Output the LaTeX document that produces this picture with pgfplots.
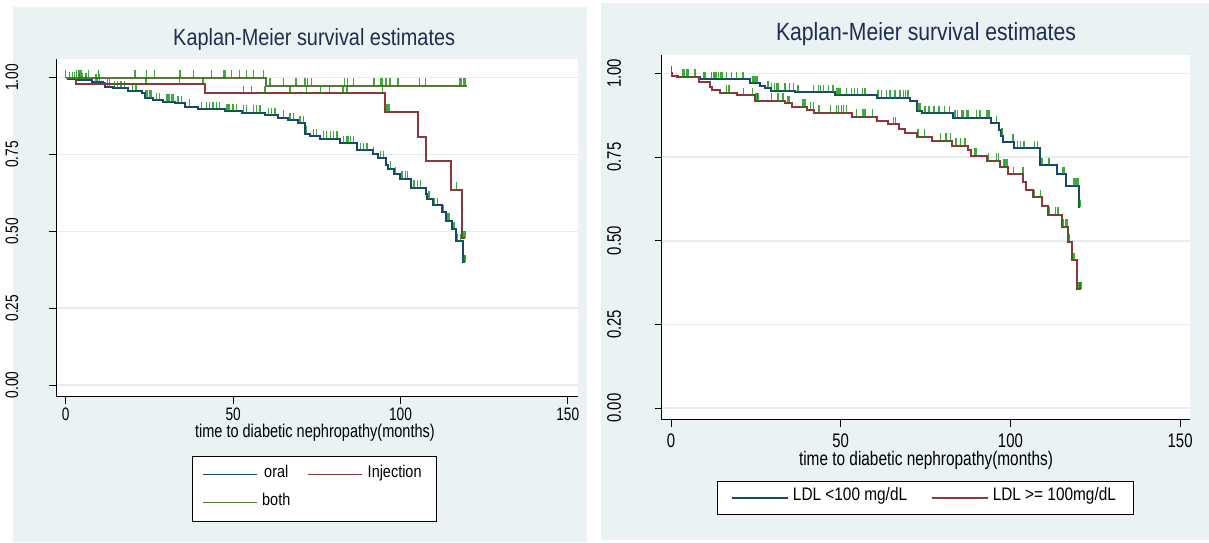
\documentclass[border=0pt]{standalone}
\usepackage{fontspec}
\setmainfont{Liberation Sans}[FakeStretch=0.85]
\newfontfamily\kfont{Liberation Sans}[FakeStretch=0.76]
\newfontfamily\lfont{Liberation Sans}[FakeStretch=0.785]
\usepackage{pgfplots}
\pgfplotsset{compat=1.18}

\definecolor{bgc}{RGB}{234,242,243}
\definecolor{gridc}{RGB}{228,236,240}
\definecolor{titlec}{RGB}{30,45,80}
\definecolor{navyc}{RGB}{26,71,111}
\definecolor{maroonc}{RGB}{144,53,59}
\definecolor{fgreenc}{RGB}{90,122,52}
\definecolor{censc}{RGB}{0,140,0}

\pgfplotsset{
  km/.style={
    scale only axis, anchor=south west,
    axis x line*=bottom, axis y line*=left,
    axis line style={black, line width=0.9pt},
    axis background/.style={fill=white},
    tick align=outside, major tick length=7pt,
    tick style={black, line width=0.8pt},
    xtick={0,50,100,150}, xticklabels={0,50,100,150},
    ytick={0,0.25,0.5,0.75,1}, yticklabels={0.00,0.25,0.50,0.75,1.00},
    ymajorgrids, grid style={gridc, line width=1.6pt},
    title={Kaplan-Meier survival estimates},
    xlabel={time to diabetic nephropathy(months)},
    legend columns=2,
  },
  kmline/.style={const plot, line width=2pt, no marks},
  cens/.style={only marks, mark=|, mark size=3.75pt, color=censc, opacity=0.75,
    mark options={line width=1.3pt, yshift=3.75pt}, forget plot},
}

\begin{document}
\begin{tikzpicture}
\fill[white] (0pt,0pt) rectangle (1209pt,-542pt);
\fill[bgc] (13pt,-7pt) rectangle (587pt,-542pt);
\fill[bgc] (601pt,-3pt) rectangle (1209pt,-540pt);

% ---------------- left panel: treatment ----------------
\begin{axis}[km,
  at={(56.5pt,-396.5pt)}, width=521pt, height=337.5pt,
  xmin=-2.78, xmax=152.9, ymin=-0.0374, ymax=1.0605,
  ticklabel style={font=\kfont\fontsize{18}{18}\selectfont},
  xticklabel style={anchor=base, yshift=-17pt},
  yticklabel style={xshift=-37.5pt, rotate=90, anchor=center},
  title style={at={(axis description cs:0.4946,1.0216)}, anchor=base,
    font=\fontsize{23.4}{23.4}\selectfont, color=titlec},
  xlabel style={at={(axis description cs:0.496,-0.1215)}, anchor=base,
    font=\lfont\fontsize{18.5}{18.5}\selectfont},
  legend style={at={(axis description cs:0.4946,-0.1763)}, anchor=north,
    draw=black, line width=0.9pt, fill=white,
    font=\fontsize{17}{17}\selectfont,
    inner xsep=9.5pt, inner ysep=12.5pt, row sep=16.5pt,
    nodes={inner ysep=1pt, inner xsep=5pt, text height=0.75em, text depth=0.2em},
    /tikz/every even column/.append style={column sep=12pt}},
  legend image code/.code={\draw[#1, line width=1.4pt] (0pt,0pt) -- (54pt,0pt);},
]
% oral
\addplot[cens] coordinates {
(1,0.995)(2,0.995)(2.5,0.995)(4,0.992)(5,0.992)(6,0.992)(9,0.987)(10,0.987)
(12.5,0.970)(13,0.970)(14.5,0.965)(15.5,0.965)(16.5,0.965)(17.5,0.965)(20,0.956)(21,0.956)
(24,0.934)(24.5,0.934)(25,0.934)(25.5,0.934)(27,0.927)(28,0.927)(30,0.921)(30.5,0.921)
(31,0.921)(31.5,0.921)(32,0.921)(33.5,0.916)(34.5,0.916)(37,0.905)(40.5,0.897)(42,0.897)
(43,0.897)(44,0.897)(45,0.897)(46,0.897)(48,0.891)(48.5,0.891)(49,0.891)(50,0.891)
(51,0.891)(53,0.886)(54,0.886)(56,0.886)(57,0.886)(58,0.886)(60.5,0.878)(61.5,0.878)
(62.5,0.878)(65,0.869)(67,0.862)(68,0.862)(70,0.851)(71,0.851)(72,0.818)(74,0.809)
(75,0.809)(77,0.801)(78,0.801)(79,0.801)(80,0.801)(81,0.801)(83,0.786)(84,0.786)
(84.5,0.786)(85,0.786)(86,0.786)(88,0.764)(89,0.764)(90,0.764)(92,0.751)(94,0.737)
(95,0.737)(97,0.704)(98.5,0.685)(100.5,0.671)(101.5,0.671)(102,0.671)(104,0.642)(105,0.642)
(106,0.642)(108.5,0.606)(110,0.584)(111,0.584)(112.8,0.562)(114,0.535)(114.5,0.535)(116,0.506)
(117,0.468)(118,0.468)(119,0.399)(119.3,0.399)};
% injection
\addplot[cens] coordinates {
(9.5,0.978)(24,0.978)(34,0.978)(41,0.978)(53,0.949)(55.5,0.949)(59.5,0.949)(67,0.949)
(72,0.949)(76.2,0.949)(78.7,0.949)(82.8,0.949)(84,0.949)(94.7,0.949)(95.8,0.889)(96.3,0.889)
(96.7,0.889)(115.3,0.635)(116.8,0.635)(118.7,0.478)(119.3,0.478)};
% both
\addplot[cens] coordinates {
(0,1)(3.2,1)(3.7,1)(4.2,1)(4.7,1)(6.7,1)(9.7,1)(20.7,1)(24.2,1)(26.6,1)(34.1,1)(38.1,1)
(43.6,1)(47.1,1)(47.6,1)(49.6,1)(52,1)(54,1)(56,1)(59,1)(61,0.973)(65,0.973)(68.8,0.973)
(71.5,0.973)(72.2,0.973)(73.5,0.973)(83.3,0.973)(84.2,0.973)(85.9,0.973)(92.1,0.973)
(94.2,0.973)(94.7,0.973)(95.7,0.973)(96.9,0.973)(99.3,0.973)(105.6,0.973)(107.5,0.973)
(117.8,0.973)(118.3,0.973)(118.8,0.973)(119.3,0.973)};

\addplot[kmline, navyc] coordinates {
(0,1.000)(0.6,0.995)(3.1,0.992)(7.7,0.987)(11.2,0.981)(11.7,0.970)(14.2,0.965)(18.7,0.956)
(22.7,0.949)(23.7,0.934)(26.1,0.927)(29.1,0.921)(32.6,0.916)(35.6,0.905)(39.6,0.897)
(47.6,0.891)(52.5,0.886)(59.5,0.878)(63.5,0.869)(66.5,0.862)(69.5,0.851)(71.5,0.818)
(73,0.809)(76,0.801)(82,0.786)(87,0.764)(91.7,0.751)(93.2,0.737)(95.7,0.715)(96.4,0.704)
(98.1,0.685)(99.9,0.671)(103.1,0.642)(107.6,0.622)(108,0.606)(109.6,0.584)(112.3,0.562)
(113.5,0.535)(115.3,0.506)(116.5,0.468)(118.6,0.399)(119.3,0.399)};
\addlegendentry{oral}
\addplot[kmline, maroonc] coordinates {
(0,1.0)(3.0,0.978)(41.6,0.949)(95.3,0.889)(105.3,0.807)(107.5,0.728)(115,0.635)
(118.3,0.478)(119.3,0.478)};
\addlegendentry{Injection}
\addplot[kmline, fgreenc] coordinates {
(0,1.0)(59.7,0.973)(120,0.973)};
\addlegendentry{both}
\end{axis}

% ---------------- right panel: LDL ----------------
\begin{axis}[km,
  at={(661.7pt,-419.6pt)}, width=527.9pt, height=364.6pt,
  xmin=-2.74, xmax=152.8, ymin=-0.0347, ymax=1.055,
  ticklabel style={font=\kfont\fontsize{19.6}{19.6}\selectfont},
  xticklabel style={anchor=base, yshift=-20.4pt},
  yticklabel style={xshift=-40.7pt, rotate=90, anchor=center},
  title style={at={(axis description cs:0.5007,1.0230)}, anchor=base,
    font=\fontsize{24.9}{24.9}\selectfont, color=titlec},
  xlabel style={at={(axis description cs:0.5007,-0.1272)}, anchor=base,
    font=\lfont\fontsize{19.6}{19.6}\selectfont},
  legend style={at={(axis description cs:0.4997,-0.1684)}, anchor=north,
    draw=black, line width=0.9pt, fill=white,
    font=\fontsize{18.1}{18.1}\selectfont,
    inner xsep=13.5pt, inner ysep=10.9pt,
    nodes={inner ysep=1pt, inner xsep=4pt, text height=0.75em, text depth=0.2em},
    /tikz/every even column/.append style={column sep=19.7pt}},
  legend image code/.code={\draw[#1, line width=1.4pt] (0pt,0pt) -- (56.5pt,0pt);},
]
\addplot[cens] coordinates {
(0.2,1.000)(3.5,0.990)(4,0.990)(4.5,0.990)(5,0.990)(7.1,0.990)(9.5,0.983)(10,0.983)
(12,0.983)(12.5,0.983)(13,0.983)(13.5,0.983)(14,0.983)(14.5,0.983)(15,0.983)(16.4,0.983)
(17.8,0.983)(19.2,0.983)(21.2,0.983)(24.2,0.970)(24.5,0.970)(24.8,0.970)(25.3,0.970)
(28.6,0.955)(29.6,0.948)(30.5,0.948)(31,0.948)(31.5,0.948)(33.6,0.948)(35,0.948)(36,0.948)
(37.4,0.943)(41.9,0.943)(43.5,0.943)(44,0.943)(45,0.943)(46.5,0.943)(47.7,0.943)(48.8,0.935)
(49.1,0.935)(49.4,0.935)(49.8,0.935)(51.8,0.935)(53.2,0.935)(54,0.935)(55,0.935)(56.5,0.935)
(57.2,0.935)(61,0.927)(62,0.927)(63.5,0.927)(64.5,0.927)(66,0.927)(67.5,0.927)(68.5,0.927)
(69,0.927)(69.8,0.927)(72.6,0.889)(73,0.889)(73.3,0.889)(73.6,0.889)(74.8,0.881)(76,0.881)
(77.5,0.881)(79,0.881)(80.5,0.881)(82,0.881)(83.7,0.868)(84.5,0.868)(85.5,0.868)(86,0.868)
(87,0.868)(87.5,0.868)(90,0.868)(91,0.868)(93.1,0.868)(93.7,0.868)(96,0.851)(97.5,0.814)
(100.8,0.796)(102,0.776)(103,0.776)(104,0.776)(107,0.776)(108,0.776)(109.3,0.726)(111.4,0.726)
(115.5,0.699)(116,0.699)(118.5,0.664)(119,0.664)(119.5,0.664)(119.9,0.664)(120.2,0.600)
(120.4,0.600)(120.6,0.600)};
\addplot[cens] coordinates {
(0.2,1.000)(16.4,0.942)(17.1,0.942)(21.3,0.935)(24.1,0.935)(24.8,0.918)(25.1,0.918)
(25.4,0.918)(25.6,0.918)(29.7,0.918)(31.5,0.918)(33,0.918)(34.5,0.911)(35,0.911)(38.9,0.900)
(39.5,0.900)(41,0.891)(41.9,0.891)(43.6,0.883)(46.9,0.883)(48.8,0.883)(49.3,0.883)(50.3,0.883)
(50.8,0.883)(51.8,0.883)(54.7,0.871)(56.6,0.871)(57.2,0.871)(59.4,0.871)(65.5,0.848)
(66.2,0.848)(72.6,0.811)(73,0.811)(74.6,0.811)(79.3,0.799)(81,0.799)(82.4,0.799)(84,0.784)
(85.3,0.784)(86.6,0.784)(89.6,0.754)(90.1,0.754)(93.5,0.739)(95.9,0.739)(96.4,0.739)
(97.9,0.721)(98.4,0.721)(99,0.721)(100.9,0.699)(103.7,0.699)(107,0.630)(108.8,0.630)
(111.4,0.577)(113.2,0.577)(114,0.577)(115.5,0.542)(116.2,0.542)(116.7,0.542)(117.3,0.497)
(118.4,0.442)(118.8,0.442)(120.2,0.355)(120.5,0.355)(120.8,0.355)};

\addplot[kmline, navyc] coordinates {
(0,1.0)(0.3,0.993)(2.0,0.990)(8.5,0.983)(23.3,0.970)(26.2,0.962)(27.7,0.955)(29.4,0.948)
(36.5,0.943)(48.3,0.935)(60.6,0.927)(70.4,0.918)(72.4,0.889)(73.9,0.881)(83.2,0.868)
(94.2,0.851)(96.5,0.831)(97.2,0.814)(97.9,0.796)(101.1,0.776)(108.8,0.726)(113.7,0.699)
(116.3,0.664)(120.2,0.600)(120.6,0.600)};
\addlegendentry{LDL <100 mg/dL}
\addplot[kmline, maroonc] coordinates {
(0,1.0)(0.3,0.993)(1.7,0.990)(8.3,0.975)(11.5,0.960)(12,0.950)(14.4,0.942)(19.4,0.935)
(24.6,0.918)(33.6,0.911)(35.6,0.900)(40.2,0.891)(42.2,0.883)(53.2,0.871)(60.6,0.859)
(64,0.848)(67.3,0.834)(68.8,0.823)(72.4,0.811)(77,0.799)(82.7,0.784)(87.6,0.771)(88.3,0.754)
(93.2,0.739)(97,0.721)(99.4,0.699)(103.8,0.676)(104.5,0.652)(106.8,0.630)(109.3,0.604)
(111,0.577)(115.1,0.542)(116.9,0.497)(118.1,0.442)(119.6,0.355)(120.8,0.355)};
\addlegendentry{LDL >= 100mg/dL}
\end{axis}

\pgfresetboundingbox
\path[use as bounding box] (0pt,0pt) rectangle (1209pt,-542pt);
\end{tikzpicture}
\end{document}
